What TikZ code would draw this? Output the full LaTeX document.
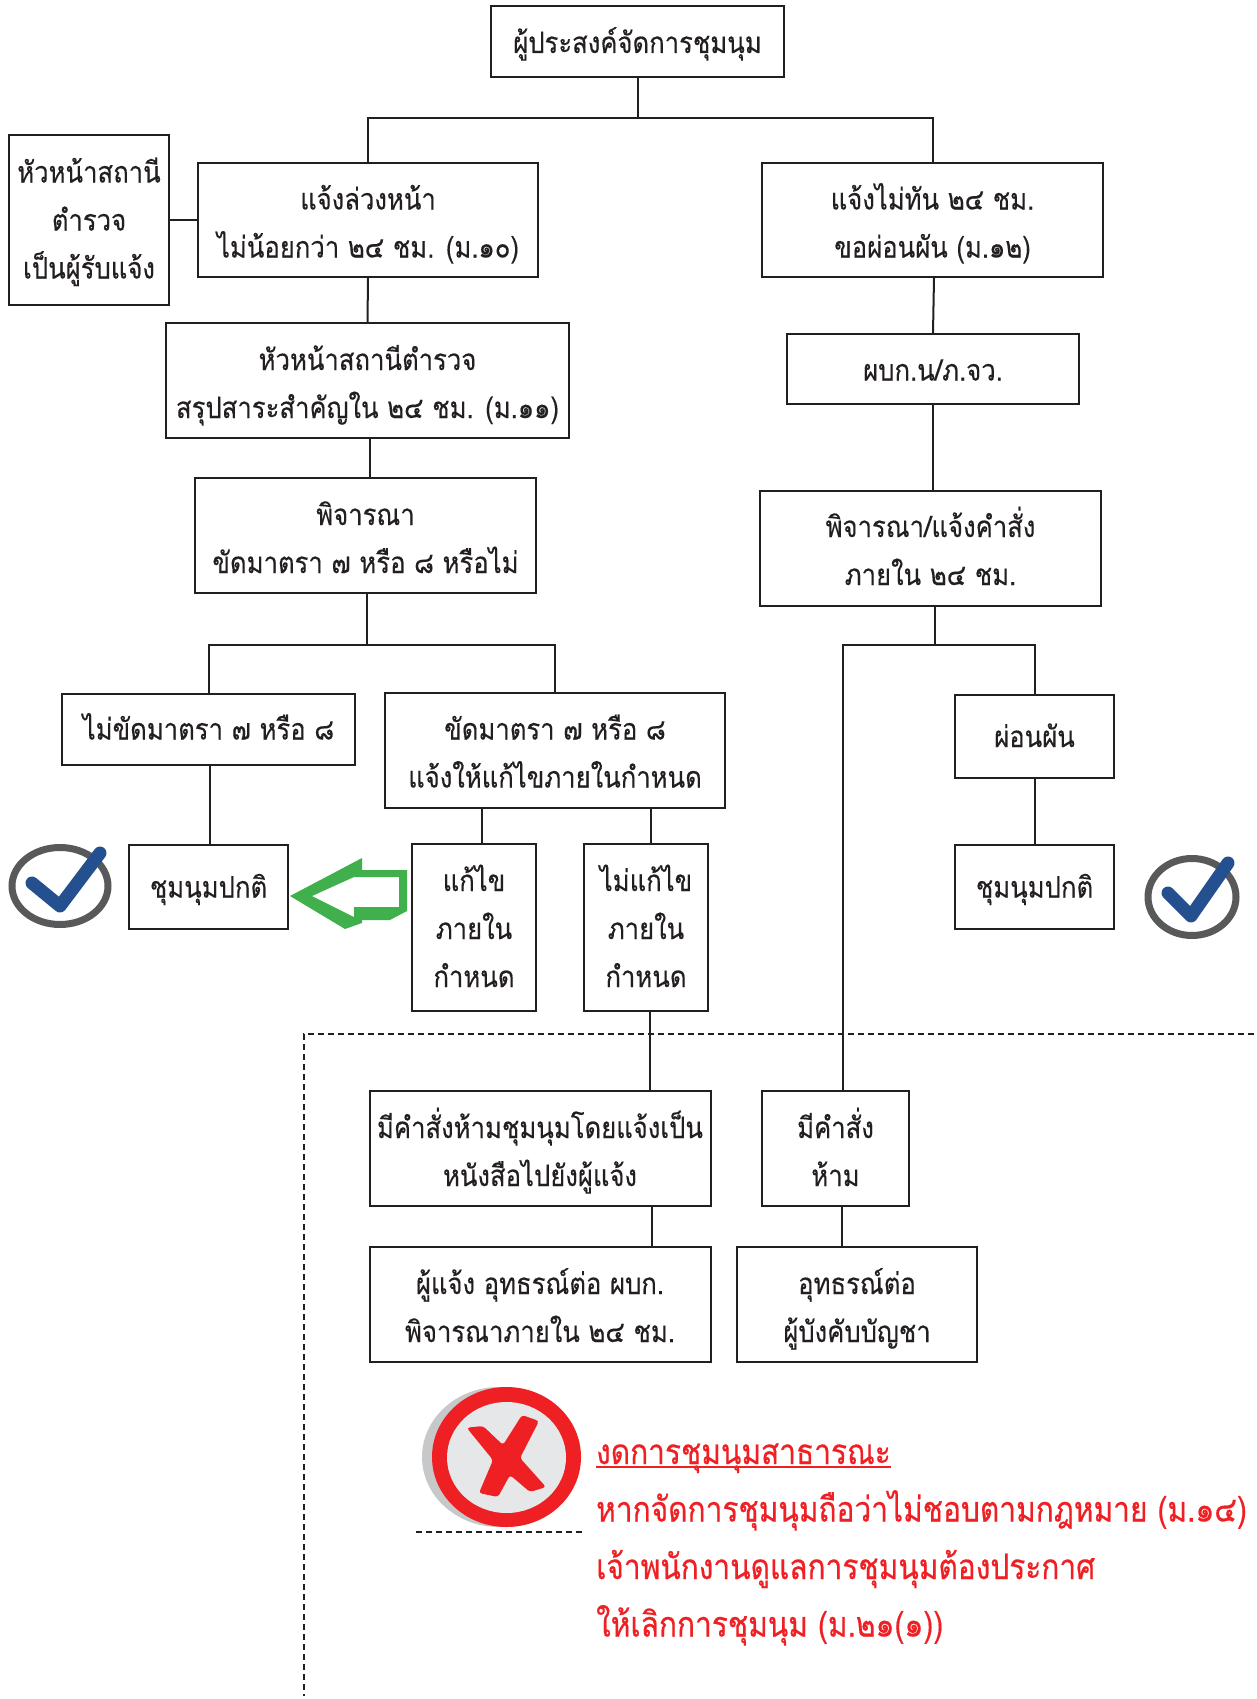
\documentclass[tikz,border=0pt]{standalone}
\usepackage{fontspec}
\setmainfont[Script=Thai,FakeStretch=.87,FakeBold=.25]{Loma}
\newfontfamily\warnfont[Script=Thai,FakeStretch=.853,FakeBold=.5]{Loma}
\usetikzlibrary{calc}
\definecolor{inkgray}{HTML}{231F20}
\definecolor{ringgray}{HTML}{58595B}
\definecolor{tickblue}{HTML}{24508F}
\definecolor{arrowgreen}{HTML}{3FB04B}
\definecolor{signred}{HTML}{EE2024}
\definecolor{signgray}{HTML}{E6E7E8}
\definecolor{shadegray}{HTML}{C7C8CA}
\tikzset{
	flowbox/.style = {draw = inkgray, line width = 2pt, fill = white, align = center, inner sep = 0pt, text = inkgray, font = \fontsize{29.5}{48}\selectfont, text height = #1, text depth = 5pt},
	flowbox/.default = 80pt,
	link/.style = {draw = inkgray, line width = 2pt},
	limit/.style = {draw = inkgray, line width = 1.2pt, dash pattern = on 6pt off 4pt},
}
\begin{document}
\begin{tikzpicture}[x = 1pt, y = -1pt]
		\useasboundingbox (0, 0) rectangle (1257, 1699);
		\draw[limit] (1254, 1034) -- (304, 1034) -- (304, 1696);
		\draw[limit] (416, 1532) -- (582, 1532);
		\node[flowbox = 28pt, minimum width = 293pt, minimum height = 71pt] (applicant) at (637.5, 41.5) {ผู้ประสงค์จัดการชุมนุม};
		\node[flowbox = 122pt, minimum width = 160pt, minimum height = 169pt] (receiver) at (89, 220) {หัวหน้าสถานี\\ตำรวจ\\เป็นผู้รับแจ้ง};
		\node[flowbox, minimum width = 340pt, minimum height = 114pt] (notice) at (368, 220) {แจ้งล่วงหน้า\\ไม่น้อยกว่า ๒๔ ชม. (ม.๑๐)};
		\node[flowbox, minimum width = 341pt, minimum height = 114pt] (late) at (932.5, 220) {แจ้งไม่ทัน ๒๔ ชม.\\ขอผ่อนผัน (ม.๑๒)};
		\node[flowbox, minimum width = 403pt, minimum height = 115pt] (summary) at (367.5, 380.5) {หัวหน้าสถานีตำรวจ\\สรุปสาระสำคัญใน ๒๔ ชม. (ม.๑๑)};
		\node[flowbox = 28pt, minimum width = 292pt, minimum height = 70pt] (chief) at (933, 369) {ผบก.น/ภ.จว.};
		\node[flowbox, minimum width = 341pt, minimum height = 115pt] (review) at (365.5, 535.5) {พิจารณา\\ขัดมาตรา ๗ หรือ ๘ หรือไม่};
		\node[flowbox = 78pt, minimum width = 341pt, minimum height = 115pt] (order) at (930.5, 548.5) {พิจารณา/แจ้งคำสั่ง\\ภายใน ๒๔ ชม.};
		\node[flowbox = 26pt, minimum width = 293pt, minimum height = 71pt] (legal) at (208.5, 729) {ไม่ขัดมาตรา ๗ หรือ ๘};
		\node[flowbox, minimum width = 340pt, minimum height = 115pt] (illegal) at (555, 750) {ขัดมาตรา ๗ หรือ ๘\\แจ้งให้แก้ไขภายในกำหนด};
		\node[flowbox = 26pt, minimum width = 159pt, minimum height = 83pt] (relief) at (1034.5, 736.5) {ผ่อนผัน};
		\node[flowbox = 26pt, minimum width = 159pt, minimum height = 84pt] (normalleft) at (208.5, 887) {ชุมนุมปกติ};
		\node[flowbox = 26pt, minimum width = 159pt, minimum height = 84pt] (normalright) at (1034.5, 887) {ชุมนุมปกติ};
		\node[flowbox = 124pt, minimum width = 124pt, minimum height = 167pt] (fixed) at (474, 927.5) {แก้ไข\\ภายใน\\กำหนด};
		\node[flowbox = 124pt, minimum width = 124pt, minimum height = 167pt] (unfixed) at (646, 927.5) {ไม่แก้ไข\\ภายใน\\กำหนด};
		\node[flowbox, minimum width = 341pt, minimum height = 115pt] (ban) at (540, 1148.5) {มีคำสั่งห้ามชุมนุมโดยแจ้งเป็น\\หนังสือไปยังผู้แจ้ง};
		\node[flowbox, minimum width = 147pt, minimum height = 115pt] (forbid) at (835.5, 1148.5) {มีคำสั่ง\\ห้าม};
		\node[flowbox, minimum width = 341pt, minimum height = 115pt] (appeal) at (540, 1304.5) {ผู้แจ้ง อุทธรณ์ต่อ ผบก.\\พิจารณาภายใน ๒๔ ชม.};
		\node[flowbox, minimum width = 240pt, minimum height = 115pt] (commander) at (857, 1304.5) {อุทธรณ์ต่อ\\ผู้บังคับบัญชา};
		\coordinate (noticetop) at (368, 118);
		\coordinate (latetop) at (933, 118);
		\coordinate (legaltop) at (208.5, 645);
		\coordinate (illegaltop) at (555, 645);
		\coordinate (forbidtop) at (843, 645);
		\coordinate (relieftop) at (1034.5, 645);
		\draw[link] (applicant.south) -- (applicant.south |- noticetop);
		\draw[link] (notice.north) -- (noticetop) -- (latetop) -- ([xshift = .5pt]late.north);
		\draw[link] (receiver.east) -- (notice.west);
		\draw[link] (notice.south) -- (summary.north);
		\draw[link] ([xshift = 2pt]summary.south) -- ([xshift = 4pt]review.north);
		\draw[link] ([xshift = 1.5pt]review.south) -- ([xshift = 1.5pt]review.south |- legaltop);
		\draw[link] (legal.north) -- (legaltop) -- (illegaltop) -- (illegal.north);
		\draw[link] ([xshift = 1.5pt]legal.south) -- ([xshift = 1.5pt]normalleft.north);
		\draw[link] ([xshift = -73pt]illegal.south) -- ([xshift = 8pt]fixed.north);
		\draw[link] ([xshift = 96pt]illegal.south) -- ([xshift = 5pt]unfixed.north);
		\draw[link] ([xshift = 1.5pt]late.south) -- (chief.north);
		\draw[link] (chief.south) -- ([xshift = 2.5pt]order.north);
		\draw[link] ([xshift = 4.5pt]order.south) -- ([xshift = 4.5pt]order.south |- forbidtop);
		\draw[link] ([xshift = 7.5pt]forbid.north) -- (forbidtop) -- (relieftop) -- (relief.north);
		\draw[link] (relief.south) -- (normalright.north);
		\draw[link] ([xshift = 4pt]unfixed.south) -- ([xshift = 110pt]ban.north);
		\draw[link] ([xshift = 112pt]ban.south) -- ([xshift = 112pt]appeal.north);
		\draw[link] ([xshift = 6.5pt]forbid.south) -- ([xshift = -15pt]commander.north);
		\foreach \x/\y/\r/\ax/\ay/\bx/\by/\cx/\cy in {60/886/48/32/883/60/906/100/853, 1192/897/44/1168/893/1191/916/1228/863}{
			\draw[ringgray, line width = 7pt] (\x, \y) ellipse ({\r} and 38.5);
			\draw[tickblue, line width = 13pt, line cap = round, line join = round] (\ax, \ay) -- (\bx, \by) -- (\cx, \cy);}
		\fill[arrowgreen, even odd rule] (290, 896) -- (362, 858) -- (362, 870) -- (407, 870) -- (407, 911) -- (390, 920) -- (362, 920) -- (362, 923) -- (345, 929) -- cycle
			(312, 896) -- (354, 877) -- (399, 877) -- (399, 907) -- (354, 907) -- (354, 917) -- cycle;
		\fill[shadegray] (499, 1457) ellipse (77 and 70);
		\fill[signred] (506.5, 1457) ellipse (74.5 and 70);
		\fill[signgray] (506.5, 1457.5) ellipse (59.5 and 55.5);
		\fill[signred, rounded corners = 3pt] (466.7, 1427.7) -- (483, 1426) -- (503, 1445) -- (522, 1415) -- (539, 1421) -- (520, 1458) -- (546, 1487) -- (530, 1492) -- (510, 1475) -- (498, 1497) -- (479, 1493) -- (493, 1460) -- cycle;
		\node[anchor = base west, align = left, inner sep = 0pt, text = signred, font = \warnfont\fontsize{35}{57.5}\selectfont] (warning) at (596, 1636.5) {งดการชุมนุมสาธารณะ\\หากจัดการชุมนุมถือว่าไม่ชอบตามกฎหมาย (ม.๑๔)\\เจ้าพนักงานดูแลการชุมนุมต้องประกาศ\\ให้เลิกการชุมนุม (ม.๒๑(๑))};
		\draw[signred, line width = 2.5pt] (596, 1467) -- (891, 1467);
\end{tikzpicture}
\end{document}
